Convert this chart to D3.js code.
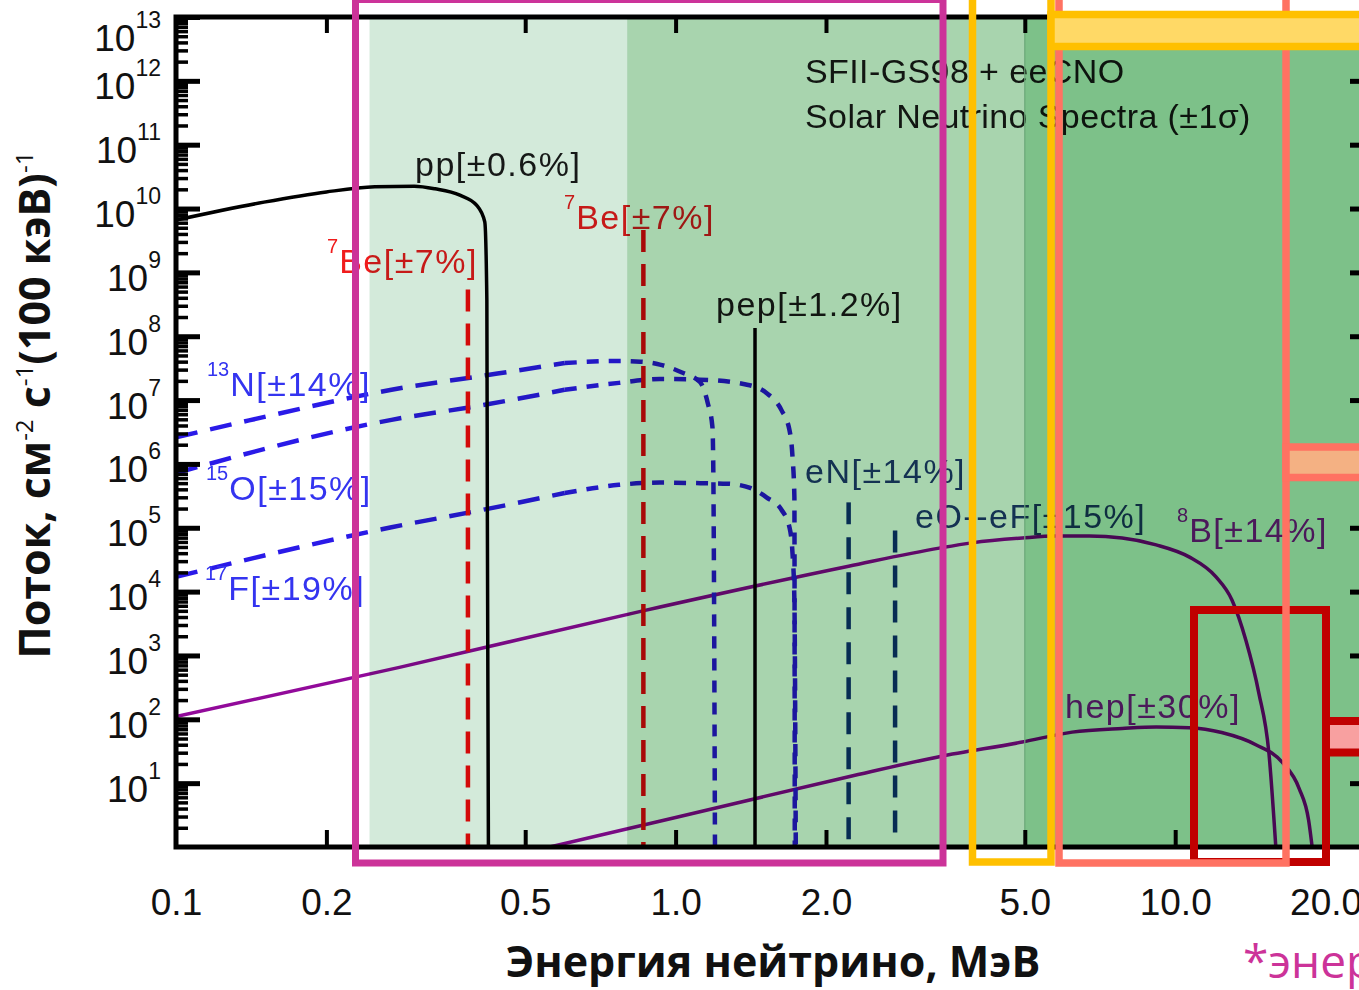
<!DOCTYPE html>
<html>
<head>
<meta charset="utf-8">
<script src="https://cdn.jsdelivr.net/npm/d3@7"></script>
<style>
body { margin: 0; background: #fff; }
svg { display: block; }
.lbl { font-family: "Liberation Sans", Arial, sans-serif; font-size: 34px; }
.ticklbl text { font-family: "Liberation Sans", Arial, sans-serif; font-size: 37px; fill: #111; }
.title { font-family: "Open Sans", "Noto Sans", sans-serif; font-weight: 700; font-size: 43px; fill: #111; }
</style>
</head>
<body>
<svg width="1359" height="990"></svg>
<script>
// values (energy in MeV, flux in cm^-2 s^-1 (100 keV)^-1)
var xTickValues = [0.1, 0.2, 0.5, 1, 2, 5, 10, 20];
var xTickLabels = ["0.1", "0.2", "0.5", "1.0", "2.0", "5.0", "10.0", "20.0"];
var yTickExponents = [1, 2, 3, 4, 5, 6, 7, 8, 9, 10, 11, 12, 13];

// detector threshold bands
var bandStart = [0.244, 0.80, 5.0];
var bandEnd = [0.80, 5.0, 25];

var ppEnergy = [0.1, 0.15, 0.2, 0.25, 0.3, 0.33, 0.37, 0.40, 0.415, 0.419, 0.420, 0.422];
var ppFlux = [6.6e9, 1.26e10, 1.82e10, 2.19e10, 2.24e10, 2.04e10, 1.62e10, 1.12e10, 6.2e9, 3.7e8, 1.3e5, 1];

var n13Energy = [0.1, 0.14, 0.27, 0.44, 0.6, 0.77, 0.85, 0.93, 1.03, 1.12, 1.16, 1.185, 1.19, 1.199];
var n13Flux = [2.6e6, 4.8e6, 1.45e7, 2.6e7, 3.8e7, 4.1e7, 4.0e7, 3.6e7, 2.7e7, 1.9e7, 8.9e6, 3.8e6, 7.2e5, 1];

var o15Energy = [0.1, 0.27, 0.41, 0.6, 0.77, 0.93, 1.12, 1.39, 1.52, 1.63, 1.69, 1.714, 1.729, 1.732];
var o15Flux = [7.2e5, 4.9e6, 8.3e6, 1.45e7, 1.86e7, 2.14e7, 2.09e7, 1.74e7, 1.29e7, 6.9e6, 3.4e6, 1.29e6, 3.0e5, 1];

var f17Energy = [0.1, 0.27, 0.41, 0.6, 0.77, 0.93, 1.12, 1.27, 1.41, 1.52, 1.63, 1.69, 1.714, 1.729, 1.74];
var f17Flux = [1.7e4, 1.02e5, 1.9e5, 3.5e5, 4.7e5, 5.1e5, 5.0e5, 4.9e5, 4.2e5, 3.0e5, 1.9e5, 1.02e5, 4.0e4, 7.4e3, 1];

var b8Energy = [0.1, 0.28, 0.86, 2.22, 3.37, 3.92, 4.94, 5.77, 6.73, 7.83, 9.16, 10.66, 12.07, 12.99, 13.86, 14.7, 15.4, 15.9];
var b8Flux = [110, 650, 5000, 2.5e4, 4.8e4, 5.8e4, 6.9e4, 7.4e4, 7.4e4, 6.9e4, 5.4e4, 3.5e4, 1.7e4, 7.4e3, 1.7e3, 260, 30, 1];

var hepEnergy = [0.56, 1.0, 2.22, 3.37, 4.94, 6.22, 7.83, 9.16, 10.66, 12.39, 14.5, 16.4, 17.7, 18.5, 18.8];
var hepFlux = [1, 2.9, 12.6, 26, 44, 63, 72, 76, 74, 62, 40, 21, 8.3, 2.6, 1];

// monoenergetic lines
var lineNames = ["7Be384", "7Be862", "pep", "eN", "eO"];
var lineEnergy = [0.384, 0.862, 1.442, 2.22, 2.75];
var lineFlux = [5.4e8, 4.6e9, 1.35e8, 2.5e5, 9.1e4];

var svg = d3.select("svg");
var pLeft = 176, pRight = 1374, pTop = 17, pBottom = 847;

var x = d3.scaleLog().domain([0.1, 25]).range([pLeft, pRight]);
var y = d3.scaleLog().domain([1, 1e13]).range([pBottom, pTop]);

svg.append("defs").append("clipPath").attr("id", "plotclip")
  .append("rect").attr("x", pLeft).attr("y", pTop)
  .attr("width", pRight - pLeft).attr("height", pBottom - pTop);

var plot = svg.append("g").attr("clip-path", "url(#plotclip)");

var line = d3.line()
  .x(function(d) { return x(d[0]); })
  .y(function(d) { return y(d[1]); })
  .curve(d3.curveMonotoneX);

function drawCurve(e, f, color, dash, width) {
  plot.append("path")
    .datum(d3.zip(e, f))
    .attr("d", line)
    .attr("fill", "none")
    .attr("stroke", color)
    .attr("stroke-width", width)
    .attr("stroke-dasharray", dash);
}

// split the CNO curves: long dashes at low energy, short dashes near the end point
function drawCno(e, f) {
  var pts = d3.zip(e, f);
  var a = pts.filter(function(d) { return d[0] <= 0.6; });
  var b = pts.filter(function(d) { return d[0] >= 0.6; });
  drawCurve(a.map(function(d) { return d[0]; }), a.map(function(d) { return d[1]; }), "#2a1ae8", "22,13", 4.5);
  drawCurve(b.map(function(d) { return d[0]; }), b.map(function(d) { return d[1]; }), "#2a1ae8", "12,10", 4.5);
}

var purple = "#920a9a";
drawCurve(b8Energy, b8Flux, purple, null, 3.5);
drawCurve(hepEnergy, hepFlux, purple, null, 3.5);
drawCno(n13Energy, n13Flux);
drawCno(o15Energy, o15Flux);
drawCno(f17Energy, f17Flux);
drawCurve(ppEnergy, ppFlux, "#000", null, 3.5);

var lineStyle = {
  "7Be384": { color: "#ff0a0a", dash: "22,12", width: 4.5 },
  "7Be862": { color: "#ff0a0a", dash: "22,12", width: 4.5 },
  "pep": { color: "#000", dash: null, width: 3.5 },
  "eN": { color: "#0a357a", dash: "22,13", width: 4.5 },
  "eO": { color: "#0a357a", dash: "22,13", width: 4.5 }
};

var vline = d3.line().x(function(d) { return x(d[0]); }).y(function(d) { return y(d[1]); });
lineNames.forEach(function(name, i) {
  var s = lineStyle[name];
  plot.append("path")
    .attr("d", vline([[lineEnergy[i], lineFlux[i]], [lineEnergy[i], 1]]))
    .attr("fill", "none")
    .attr("stroke", s.color)
    .attr("stroke-width", s.width)
    .attr("stroke-dasharray", s.dash);
});

// labels
function label(px, py, sup, txt, color) {
  var t = plot.append("text").attr("class", "lbl").attr("x", px).attr("y", py).attr("fill", color);
  if (sup) {
    t.append("tspan").attr("font-size", 20).attr("dy", -20).text(sup);
    t.append("tspan").attr("dy", 20).attr("dx", 1).attr("letter-spacing", 1.5).text(txt);
  } else {
    t.append("tspan").attr("letter-spacing", 1.5).text(txt);
  }
}

var red = "#f01c1c", blue = "#3434f0", navy = "#1e3c78", plum = "#9921a8", ink = "#1a1a1a";
label(415, 176, null, "pp[±0.6%]", ink);
label(327, 273, "7", "Be[±7%]", red);
label(564, 229, "7", "Be[±7%]", red);
label(716, 316, null, "pep[±1.2%]", ink);
label(207, 396, "13", "N[±14%]", blue);
label(206, 500, "15", "O[±15%]", blue);
label(205, 600, "17", "F[±19%]", blue);
label(805, 483, null, "eN[±14%]", navy);
label(915, 528, null, "eO--eF[±15%]", navy);
label(1177, 542, "8", "B[±14%]", plum);
label(1065, 718, null, "hep[±30%]", plum);

plot.append("text").attr("class", "lbl").attr("x", 805).attr("y", 83)
  .attr("font-size", 39).attr("letter-spacing", 0.4).attr("fill", ink)
  .text("SFII-GS98 + eeCNO");
plot.append("text").attr("class", "lbl").attr("x", 805).attr("y", 128)
  .attr("font-size", 39).attr("letter-spacing", 0.4).attr("fill", ink)
  .text("Solar Neutrino Spectra (±1σ)");

// green threshold bands, multiplied over the curves
var bandColor = ["#d3eada", "#a8d4ae", "#7dc189"];
plot.selectAll("rect.band")
  .data(d3.zip(bandStart, bandEnd))
  .enter().append("rect")
  .attr("class", "band")
  .attr("x", function(d) { return x(d[0]); })
  .attr("width", function(d) { return x(d[1]) - x(d[0]); })
  .attr("y", pTop)
  .attr("height", pBottom - pTop)
  .attr("fill", function(d, i) { return bandColor[i]; })
  .style("mix-blend-mode", "multiply");
plot.append("line")
  .attr("x1", x(bandStart[2])).attr("x2", x(bandStart[2]))
  .attr("y1", pTop).attr("y2", pBottom)
  .attr("stroke", "#6aa878").attr("stroke-width", 1.2);

// axes
var yMajor = yTickExponents.map(function(k) { return Math.pow(10, k); });
var yMinor = [];
[0].concat(yTickExponents.slice(0, 12)).forEach(function(k) {
  [2, 3, 4, 5, 6, 7, 8, 9].forEach(function(m) { yMinor.push(m * Math.pow(10, k)); });
});

function tickAxis(axis, tx, ty, w) {
  var g = svg.append("g").attr("transform", "translate(" + tx + "," + ty + ")").call(axis);
  g.select(".domain").remove();
  g.selectAll(".tick line").attr("stroke", "#000").attr("stroke-width", w);
  return g;
}

tickAxis(d3.axisRight(y).tickValues(yMinor).tickSize(12).tickFormat(""), pLeft, 0, 3.5);
tickAxis(d3.axisRight(y).tickValues(yMajor).tickSize(24).tickFormat(""), pLeft, 0, 5);
tickAxis(d3.axisLeft(y).tickValues(yMinor).tickSize(12).tickFormat(""), pRight, 0, 3.5);
tickAxis(d3.axisLeft(y).tickValues(yMajor).tickSize(24).tickFormat(""), pRight, 0, 5);
tickAxis(d3.axisBottom(x).tickValues(xTickValues.slice(1)).tickSize(16).tickFormat(""), 0, pTop, 4);
tickAxis(d3.axisTop(x).tickValues(xTickValues.slice(1)).tickSize(17).tickFormat(""), 0, pBottom, 4);

svg.append("rect")
  .attr("x", pLeft).attr("y", pTop)
  .attr("width", pRight - pLeft).attr("height", pBottom - pTop)
  .attr("fill", "none").attr("stroke", "#000").attr("stroke-width", 5);

// x tick labels
var gx = svg.append("g").attr("class", "ticklbl")
  .attr("transform", "translate(0," + pBottom + ")")
  .call(d3.axisBottom(x).tickValues(xTickValues)
    .tickFormat(function(d, i) { return xTickLabels[i]; })
    .tickSize(0).tickPadding(42));
gx.select(".domain").remove();

// y tick labels as 10^k
var gy = svg.append("g").attr("class", "ticklbl")
  .attr("transform", "translate(" + pLeft + ",0)")
  .call(d3.axisLeft(y).tickValues(yMajor).tickFormat("").tickSize(0).tickPadding(15));
gy.select(".domain").remove();
gy.selectAll(".tick text").each(function(d) {
  var k = Math.round(Math.log10(d));
  var t = d3.select(this);
  var dy = Math.max(18, 50 - y(d));
  t.attr("dy", dy).text(null);
  t.append("tspan").text("10");
  t.append("tspan").attr("font-size", 23).attr("dy", -23).text(k);
});

// axis titles
svg.append("text").attr("class", "title")
  .attr("x", 773).attr("y", 977).attr("text-anchor", "middle")
  .text("Энергия нейтрино, МэВ");

var yt = svg.append("text").attr("class", "title")
  .attr("text-anchor", "middle")
  .attr("transform", "translate(50,405) rotate(-90)");
yt.append("tspan").text("Поток, см");
yt.append("tspan").attr("font-size", 24).attr("font-weight", 400).attr("dy", -17).text("-2");
yt.append("tspan").attr("dy", 17).text(" с");
yt.append("tspan").attr("font-size", 24).attr("font-weight", 400).attr("dy", -17).text("-1");
yt.append("tspan").attr("dy", 17).text("(100 кэВ)");
yt.append("tspan").attr("font-size", 24).attr("font-weight", 400).attr("dy", -17).text("-1");

// slide highlight frames over the chart
function frame(x0, y0, x1, y1, stroke, w, fill) {
  svg.append("rect")
    .attr("x", x0).attr("y", y0)
    .attr("width", x1 - x0).attr("height", y1 - y0)
    .attr("fill", fill || "none")
    .attr("stroke", stroke).attr("stroke-width", w);
}
frame(355.5, -0.5, 943, 863, "#cc3399", 7);
frame(972.5, -10, 1051, 862, "#ffc000", 7.5);
frame(1194, 610, 1326, 862, "#c00000", 8);
frame(1059, -10, 1286, 863, "#ff7262", 7.5);
frame(1051, 14.5, 1420, 46.5, "#ffc000", 7.5, "#ffd966");
frame(1286, 447, 1420, 477.5, "#ff7262", 7.5, "#f4b183");
frame(1326, 721, 1420, 752.5, "#c00000", 8, "#f8a0a0");

svg.append("text")
  .attr("x", 1243).attr("y", 978)
  .attr("font-family", "'Open Sans', 'Noto Sans', sans-serif")
  .attr("font-size", 46).attr("fill", "#cc3399")
  .text("*энергия");
</script>
</body>
</html>
